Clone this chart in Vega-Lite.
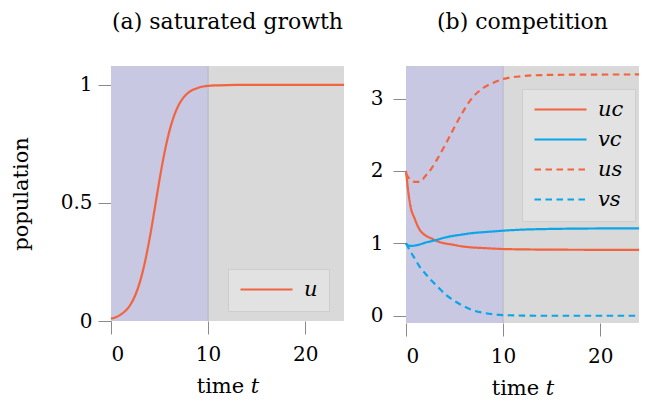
{
  "$schema": "https://vega.github.io/schema/vega-lite/v6.json",
  "padding": {"left": 10, "top": 10, "right": 5, "bottom": 5},
  "background": "white",
  "datasets": {
    "bg": [{"start": 0, "end": 10}],
    "growth": [
      {"t": 0, "series": "u", "value": 0.010},
      {"t": 0.5, "series": "u", "value": 0.016},
      {"t": 1, "series": "u", "value": 0.027},
      {"t": 1.5, "series": "u", "value": 0.043},
      {"t": 2, "series": "u", "value": 0.069},
      {"t": 2.5, "series": "u", "value": 0.109},
      {"t": 3, "series": "u", "value": 0.168},
      {"t": 3.5, "series": "u", "value": 0.25},
      {"t": 4, "series": "u", "value": 0.354},
      {"t": 4.5, "series": "u", "value": 0.475},
      {"t": 5, "series": "u", "value": 0.599},
      {"t": 5.5, "series": "u", "value": 0.711},
      {"t": 6, "series": "u", "value": 0.802},
      {"t": 6.5, "series": "u", "value": 0.870},
      {"t": 7, "series": "u", "value": 0.917},
      {"t": 7.5, "series": "u", "value": 0.948},
      {"t": 8, "series": "u", "value": 0.968},
      {"t": 8.5, "series": "u", "value": 0.980},
      {"t": 9, "series": "u", "value": 0.988},
      {"t": 9.5, "series": "u", "value": 0.993},
      {"t": 10, "series": "u", "value": 0.996},
      {"t": 11, "series": "u", "value": 0.998},
      {"t": 12, "series": "u", "value": 0.9994},
      {"t": 14, "series": "u", "value": 1.0},
      {"t": 18, "series": "u", "value": 1.0},
      {"t": 24, "series": "u", "value": 1.0}
    ],
    "comp": [
      {"t": 0, "series": "uc", "value": 2.00},
      {"t": 0.2, "series": "uc", "value": 1.75},
      {"t": 0.45, "series": "uc", "value": 1.52},
      {"t": 0.9, "series": "uc", "value": 1.34},
      {"t": 1.4, "series": "uc", "value": 1.19},
      {"t": 2, "series": "uc", "value": 1.11},
      {"t": 2.6, "series": "uc", "value": 1.07},
      {"t": 3.2, "series": "uc", "value": 1.03},
      {"t": 4, "series": "uc", "value": 1.00},
      {"t": 4.7, "series": "uc", "value": 0.985},
      {"t": 5.7, "series": "uc", "value": 0.96},
      {"t": 6.7, "series": "uc", "value": 0.945},
      {"t": 8, "series": "uc", "value": 0.935},
      {"t": 9, "series": "uc", "value": 0.928},
      {"t": 10, "series": "uc", "value": 0.922},
      {"t": 12, "series": "uc", "value": 0.917},
      {"t": 14, "series": "uc", "value": 0.914},
      {"t": 17, "series": "uc", "value": 0.912},
      {"t": 20, "series": "uc", "value": 0.911},
      {"t": 24, "series": "uc", "value": 0.910},
      {"t": 0, "series": "vc", "value": 1.00},
      {"t": 0.2, "series": "vc", "value": 0.975},
      {"t": 0.45, "series": "vc", "value": 0.965},
      {"t": 0.9, "series": "vc", "value": 0.97},
      {"t": 1.4, "series": "vc", "value": 0.985},
      {"t": 2, "series": "vc", "value": 1.01},
      {"t": 2.6, "series": "vc", "value": 1.03},
      {"t": 3.2, "series": "vc", "value": 1.05},
      {"t": 4, "series": "vc", "value": 1.08},
      {"t": 4.7, "series": "vc", "value": 1.10},
      {"t": 5.7, "series": "vc", "value": 1.12},
      {"t": 6.7, "series": "vc", "value": 1.14},
      {"t": 8, "series": "vc", "value": 1.155},
      {"t": 9, "series": "vc", "value": 1.165},
      {"t": 10, "series": "vc", "value": 1.175},
      {"t": 12, "series": "vc", "value": 1.19},
      {"t": 14, "series": "vc", "value": 1.197},
      {"t": 17, "series": "vc", "value": 1.203},
      {"t": 20, "series": "vc", "value": 1.206},
      {"t": 24, "series": "vc", "value": 1.208},
      {"t": 0, "series": "us", "value": 1.97},
      {"t": 0.2, "series": "us", "value": 1.92},
      {"t": 0.45, "series": "us", "value": 1.88},
      {"t": 0.9, "series": "us", "value": 1.85},
      {"t": 1.4, "series": "us", "value": 1.85},
      {"t": 2, "series": "us", "value": 1.93},
      {"t": 2.6, "series": "us", "value": 2.03},
      {"t": 3.2, "series": "us", "value": 2.16},
      {"t": 4, "series": "us", "value": 2.35},
      {"t": 4.7, "series": "us", "value": 2.53},
      {"t": 5.7, "series": "us", "value": 2.78},
      {"t": 6.7, "series": "us", "value": 2.99},
      {"t": 8, "series": "us", "value": 3.15},
      {"t": 9, "series": "us", "value": 3.22},
      {"t": 10, "series": "us", "value": 3.27},
      {"t": 12, "series": "us", "value": 3.31},
      {"t": 14, "series": "us", "value": 3.325},
      {"t": 17, "series": "us", "value": 3.33},
      {"t": 20, "series": "us", "value": 3.332},
      {"t": 24, "series": "us", "value": 3.333},
      {"t": 0, "series": "vs", "value": 1.00},
      {"t": 0.2, "series": "vs", "value": 0.95},
      {"t": 0.45, "series": "vs", "value": 0.89},
      {"t": 0.9, "series": "vs", "value": 0.79},
      {"t": 1.4, "series": "vs", "value": 0.68},
      {"t": 2, "series": "vs", "value": 0.58},
      {"t": 2.6, "series": "vs", "value": 0.49},
      {"t": 3.2, "series": "vs", "value": 0.41},
      {"t": 4, "series": "vs", "value": 0.30},
      {"t": 4.7, "series": "vs", "value": 0.23},
      {"t": 5.7, "series": "vs", "value": 0.15},
      {"t": 6.7, "series": "vs", "value": 0.085},
      {"t": 8, "series": "vs", "value": 0.04},
      {"t": 9, "series": "vs", "value": 0.02},
      {"t": 10, "series": "vs", "value": 0.01},
      {"t": 12, "series": "vs", "value": 0.003},
      {"t": 14, "series": "vs", "value": 0.0},
      {"t": 17, "series": "vs", "value": 0.0},
      {"t": 20, "series": "vs", "value": 0.0},
      {"t": 24, "series": "vs", "value": 0.0}
    ]
  },
  "config": {
    "font": "DejaVu Serif",
    "view": {"fill": "#D9D9D9", "stroke": null},
    "axis": {
      "grid": false,
      "domain": false,
      "tickColor": "#8a8a8a",
      "tickSize": 13,
      "tickWidth": 1,
      "labelFont": "DejaVu Serif",
      "labelFontSize": 20,
      "labelColor": "#000000",
      "titleFont": "DejaVu Serif",
      "titleFontSize": 21,
      "titleFontWeight": "normal",
      "titleColor": "#000000"
    },
    "axisX": {"labelPadding": 10, "titlePadding": 11},
    "axisY": {"labelPadding": 6, "titlePadding": 29},
    "title": {"font": "DejaVu Serif", "fontSize": 22, "fontWeight": "normal", "anchor": "middle", "offset": 32, "color": "#000000"},
    "legend": {
      "labelFont": "DejaVu Serif",
      "labelFontStyle": "italic",
      "labelFontSize": 21,
      "labelColor": "#000000",
      "symbolType": "stroke",
      "symbolSize": 2704,
      "symbolStrokeWidth": 2.2,
      "clipHeight": 19,
      "padding": 11,
      "fillColor": "#E2E2E2",
      "strokeColor": "#CDCDCD",
      "labelOffset": 10,
      "rowPadding": 8
    }
  },
  "spacing": 21,
  "resolve": {"scale": {"color": "independent", "strokeDash": "independent"}, "legend": {"color": "independent", "strokeDash": "independent"}},
  "hconcat": [
    {
      "title": "(a) saturated growth",
      "width": 233,
      "height": 255,
      "layer": [
        {
          "data": {"name": "bg"},
          "mark": {"type": "rect", "color": "#C8C8E2"},
          "encoding": {
            "x": {"field": "start", "type": "quantitative", "scale": {"domain": [0, 24], "nice": false}, "title": "time 𝑡", "axis": {"values": [0, 10, 20]}},
            "x2": {"field": "end"}
          }
        },
        {
          "data": {"name": "bg"},
          "mark": {"type": "rule", "color": "#B5B5C8", "strokeWidth": 1},
          "encoding": {
            "x": {"field": "end", "type": "quantitative", "title": "time 𝑡"}
          }
        },
        {
          "data": {"name": "growth"},
          "mark": {"type": "line", "strokeWidth": 2.2, "interpolate": "monotone"},
          "encoding": {
            "x": {"field": "t", "type": "quantitative", "title": "time 𝑡"},
            "y": {"field": "value", "type": "quantitative", "scale": {"domain": [0, 1.08], "nice": false}, "title": "population", "axis": {"values": [0, 0.5, 1], "format": "~g"}},
            "color": {"field": "series", "type": "nominal", "scale": {"domain": ["u"], "range": ["#F26440"]}, "legend": {"title": null, "orient": "none", "legendX": 117, "legendY": 203}}
          }
        }
      ]
    },
    {
      "title": "(b) competition",
      "width": 233,
      "height": 257,
      "layer": [
        {
          "data": {"name": "bg"},
          "mark": {"type": "rect", "color": "#C8C8E2"},
          "encoding": {
            "x": {"field": "start", "type": "quantitative", "scale": {"domain": [0, 24], "nice": false}, "title": "time 𝑡", "axis": {"values": [0, 10, 20]}},
            "x2": {"field": "end"}
          }
        },
        {
          "data": {"name": "bg"},
          "mark": {"type": "rule", "color": "#B5B5C8", "strokeWidth": 1},
          "encoding": {
            "x": {"field": "end", "type": "quantitative", "title": "time 𝑡"}
          }
        },
        {
          "data": {"name": "comp"},
          "mark": {"type": "line", "strokeWidth": 2.2, "interpolate": "monotone"},
          "encoding": {
            "x": {"field": "t", "type": "quantitative", "title": "time 𝑡"},
            "y": {"field": "value", "type": "quantitative", "scale": {"domain": [-0.1, 3.45], "nice": false}, "title": null, "axis": {"values": [0, 1, 2, 3], "labelPadding": 10}},
            "color": {"field": "series", "type": "nominal", "scale": {"domain": ["uc", "vc", "us", "vs"], "range": ["#F26440", "#0BA5E8", "#F26440", "#0BA5E8"]}, "legend": {"title": null, "orient": "none", "legendX": 116, "legendY": 23}},
            "strokeDash": {"field": "series", "type": "nominal", "scale": {"domain": ["uc", "vc", "us", "vs"], "range": [[1, 0], [1, 0], [6.5, 4.5], [6.5, 4.5]]}, "legend": {"title": null, "orient": "none", "legendX": 116, "legendY": 23}}
          }
        }
      ]
    }
  ]
}
